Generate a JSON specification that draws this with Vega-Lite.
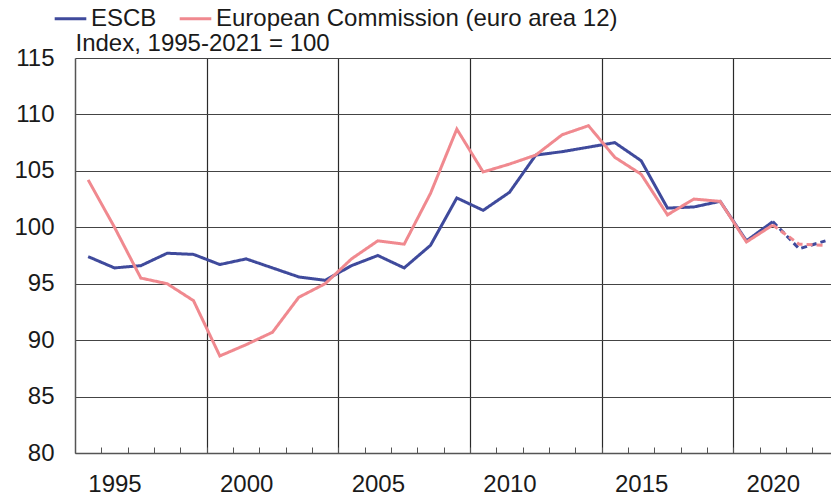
{
  "$schema": "https://vega.github.io/schema/vega-lite/v6.json",
  "width": 756,
  "height": 395,
  "autosize": {"type": "none"},
  "padding": {"left": 75, "top": 58, "right": 0, "bottom": 44},
  "background": "white",
  "config": {
    "view": {"stroke": null},
    "font": "Liberation Sans"
  },
  "data": {
    "values": [
      {"series": "ESCB", "year": 1994, "value": 97.4, "part": "actual"},
      {"series": "ESCB", "year": 1995, "value": 96.4, "part": "actual"},
      {"series": "ESCB", "year": 1996, "value": 96.6, "part": "actual"},
      {"series": "ESCB", "year": 1997, "value": 97.7, "part": "actual"},
      {"series": "ESCB", "year": 1998, "value": 97.6, "part": "actual"},
      {"series": "ESCB", "year": 1999, "value": 96.7, "part": "actual"},
      {"series": "ESCB", "year": 2000, "value": 97.2, "part": "actual"},
      {"series": "ESCB", "year": 2001, "value": 96.4, "part": "actual"},
      {"series": "ESCB", "year": 2002, "value": 95.6, "part": "actual"},
      {"series": "ESCB", "year": 2003, "value": 95.3, "part": "actual"},
      {"series": "ESCB", "year": 2004, "value": 96.6, "part": "actual"},
      {"series": "ESCB", "year": 2005, "value": 97.5, "part": "actual"},
      {"series": "ESCB", "year": 2006, "value": 96.4, "part": "actual"},
      {"series": "ESCB", "year": 2007, "value": 98.4, "part": "actual"},
      {"series": "ESCB", "year": 2008, "value": 102.6, "part": "actual"},
      {"series": "ESCB", "year": 2009, "value": 101.5, "part": "actual"},
      {"series": "ESCB", "year": 2010, "value": 103.1, "part": "actual"},
      {"series": "ESCB", "year": 2011, "value": 106.4, "part": "actual"},
      {"series": "ESCB", "year": 2012, "value": 106.7, "part": "actual"},
      {"series": "ESCB", "year": 2013, "value": 107.1, "part": "actual"},
      {"series": "ESCB", "year": 2014, "value": 107.5, "part": "actual"},
      {"series": "ESCB", "year": 2015, "value": 105.9, "part": "actual"},
      {"series": "ESCB", "year": 2016, "value": 101.7, "part": "actual"},
      {"series": "ESCB", "year": 2017, "value": 101.8, "part": "actual"},
      {"series": "ESCB", "year": 2018, "value": 102.3, "part": "actual"},
      {"series": "ESCB", "year": 2019, "value": 98.8, "part": "actual"},
      {"series": "ESCB", "year": 2020, "value": 100.5, "part": "actual"},
      {"series": "ESCB", "year": 2020, "value": 100.5, "part": "forecast"},
      {"series": "ESCB", "year": 2021, "value": 98.1, "part": "forecast"},
      {"series": "ESCB", "year": 2022, "value": 98.8, "part": "forecast"},
      {"series": "European Commission (euro area 12)", "year": 1994, "value": 104.2, "part": "actual"},
      {"series": "European Commission (euro area 12)", "year": 1995, "value": 100.0, "part": "actual"},
      {"series": "European Commission (euro area 12)", "year": 1996, "value": 95.5, "part": "actual"},
      {"series": "European Commission (euro area 12)", "year": 1997, "value": 95.0, "part": "actual"},
      {"series": "European Commission (euro area 12)", "year": 1998, "value": 93.5, "part": "actual"},
      {"series": "European Commission (euro area 12)", "year": 1999, "value": 88.6, "part": "actual"},
      {"series": "European Commission (euro area 12)", "year": 2000, "value": 89.6, "part": "actual"},
      {"series": "European Commission (euro area 12)", "year": 2001, "value": 90.7, "part": "actual"},
      {"series": "European Commission (euro area 12)", "year": 2002, "value": 93.8, "part": "actual"},
      {"series": "European Commission (euro area 12)", "year": 2003, "value": 95.0, "part": "actual"},
      {"series": "European Commission (euro area 12)", "year": 2004, "value": 97.2, "part": "actual"},
      {"series": "European Commission (euro area 12)", "year": 2005, "value": 98.8, "part": "actual"},
      {"series": "European Commission (euro area 12)", "year": 2006, "value": 98.5, "part": "actual"},
      {"series": "European Commission (euro area 12)", "year": 2007, "value": 103.0, "part": "actual"},
      {"series": "European Commission (euro area 12)", "year": 2008, "value": 108.7, "part": "actual"},
      {"series": "European Commission (euro area 12)", "year": 2009, "value": 104.9, "part": "actual"},
      {"series": "European Commission (euro area 12)", "year": 2010, "value": 105.6, "part": "actual"},
      {"series": "European Commission (euro area 12)", "year": 2011, "value": 106.4, "part": "actual"},
      {"series": "European Commission (euro area 12)", "year": 2012, "value": 108.2, "part": "actual"},
      {"series": "European Commission (euro area 12)", "year": 2013, "value": 109.0, "part": "actual"},
      {"series": "European Commission (euro area 12)", "year": 2014, "value": 106.2, "part": "actual"},
      {"series": "European Commission (euro area 12)", "year": 2015, "value": 104.7, "part": "actual"},
      {"series": "European Commission (euro area 12)", "year": 2016, "value": 101.1, "part": "actual"},
      {"series": "European Commission (euro area 12)", "year": 2017, "value": 102.5, "part": "actual"},
      {"series": "European Commission (euro area 12)", "year": 2018, "value": 102.3, "part": "actual"},
      {"series": "European Commission (euro area 12)", "year": 2019, "value": 98.7, "part": "actual"},
      {"series": "European Commission (euro area 12)", "year": 2020, "value": 100.2, "part": "actual"},
      {"series": "European Commission (euro area 12)", "year": 2020, "value": 100.2, "part": "forecast"},
      {"series": "European Commission (euro area 12)", "year": 2021, "value": 98.5, "part": "forecast"},
      {"series": "European Commission (euro area 12)", "year": 2022, "value": 98.4, "part": "forecast"}
    ]
  },
  "mark": {"type": "line", "strokeWidth": 3, "clip": true},
  "encoding": {
    "x": {
      "field": "year",
      "type": "quantitative",
      "scale": {"domain": [1993.5, 2022.21], "nice": false, "zero": false},
      "axis": {
        "title": null,
        "values": [1994.5, 1995, 1995.5, 1996.5, 1997.5, 1998.5, 1999.5, 2000, 2000.5, 2001.5, 2002.5, 2003.5, 2004.5, 2005, 2005.5, 2006.5, 2007.5, 2008.5, 2009.5, 2010, 2010.5, 2011.5, 2012.5, 2013.5, 2014.5, 2015, 2015.5, 2016.5, 2017.5, 2018.5, 2019.5, 2020, 2020.5, 2021.5],
        "labelExpr": "(+datum.value) % 5 === 0 ? format(+datum.value, 'd') : ''",
        "labelOverlap": false,
        "labelFlush": false,
        "labelFontSize": 24,
        "labelFont": "Liberation Sans",
        "labelColor": "#1a1a1a",
        "labelPadding": 25,
        "domain": true,
        "domainColor": "#555555",
        "domainWidth": 1.5,
        "ticks": true,
        "tickSize": -6,
        "tickColor": "#555555",
        "tickWidth": 1,
        "tickOpacity": {"condition": {"test": "(+datum.value) % 1 === 0", "value": 0}, "value": 1},
        "grid": true,
        "gridColor": "#2a2a2a",
        "gridWidth": 1.2,
        "gridOpacity": {"condition": {"test": "((+datum.value) + 1.5) % 5 === 0", "value": 1}, "value": 0}
      }
    },
    "y": {
      "field": "value",
      "type": "quantitative",
      "scale": {"domain": [80, 115], "nice": false, "zero": false},
      "axis": {
        "title": "Index, 1995-2021 = 100",
        "titleAngle": 0,
        "titleX": 0,
        "titleY": -8,
        "titleAlign": "left",
        "titleBaseline": "alphabetic",
        "titleFontSize": 24,
        "titleFontWeight": "normal",
        "titleFont": "Liberation Sans",
        "titleColor": "#1a1a1a",
        "values": [80, 85, 90, 95, 100, 105, 110, 115],
        "labelFontSize": 24,
        "labelFont": "Liberation Sans",
        "labelColor": "#1a1a1a",
        "labelPadding": 21,
        "ticks": false,
        "domain": true,
        "domainColor": "#555555",
        "domainWidth": 1.5,
        "grid": true,
        "gridColor": "#444444",
        "gridWidth": 1.2
      }
    },
    "color": {
      "field": "series",
      "type": "nominal",
      "scale": {
        "domain": ["ESCB", "European Commission (euro area 12)"],
        "range": ["#3f4a9c", "#f0898f"]
      },
      "legend": {
        "title": null,
        "orient": "none",
        "direction": "horizontal",
        "legendX": -22,
        "legendY": -57,
        "symbolType": "stroke",
        "symbolSize": 1000,
        "symbolStrokeWidth": 3,
        "labelFontSize": 24,
        "labelFont": "Liberation Sans",
        "labelColor": "#1a1a1a",
        "labelOffset": 3,
        "columnPadding": 16,
        "labelLimit": 600
      }
    },
    "strokeDash": {
      "field": "part",
      "type": "nominal",
      "scale": {"domain": ["actual", "forecast"], "range": [[1, 0], [6, 4]]},
      "legend": null
    }
  }
}
